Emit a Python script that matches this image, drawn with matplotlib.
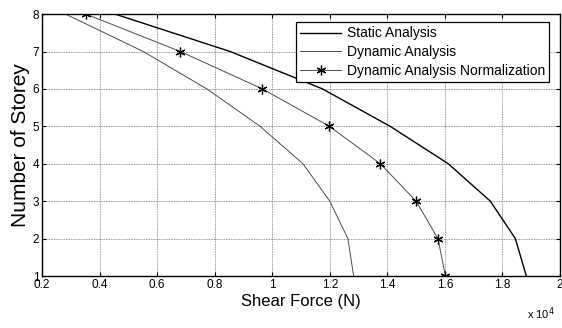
import numpy as np
import matplotlib.pyplot as plt

plt.rcParams['font.family'] = ['Liberation Sans', 'DejaVu Sans']

# storey numbers and shear force per storey (N)
storey = [1, 2, 3, 4, 5, 6, 7, 8]
static_force = [18830, 18450, 17580, 16120, 14100, 11750, 8540, 4540]
dynamic_force = [12830, 12630, 12000, 11070, 9580, 7730, 5520, 2820]
normalized_force = [16020, 15760, 15000, 13760, 11990, 9660, 6810, 3530]

x_ticks = [0.2, 0.4, 0.6, 0.8, 1.0, 1.2, 1.4, 1.6, 1.8, 2.0]
x_tick_labels = ['0.2', '0.4', '0.6', '0.8', '1', '1.2', '1.4', '1.6', '1.8', '2']

fig = plt.figure(figsize=(5.62, 3.28), dpi=100)
ax = fig.add_axes([0.0747, 0.1585, 0.9217, 0.7985])

scale = 1e4
ax.plot(np.array(static_force) / scale, storey, color='black', lw=1.0,
        label='Static Analysis')
ax.plot(np.array(dynamic_force) / scale, storey, color='0.3', lw=0.7,
        label='Dynamic Analysis')
ax.plot(np.array(normalized_force) / scale, storey, color='0.3', lw=0.7,
        marker=(6, 2, 0), markersize=7, markeredgecolor='black',
        markeredgewidth=0.9, label='Dynamic Analysis Normalization')

ax.set_xlim(0.2, 2.0)
ax.set_ylim(1, 8)
ax.set_xticks(x_ticks)
ax.set_xticklabels(x_tick_labels)
ax.set_yticks(storey)
ax.tick_params(direction='in', length=3, width=0.8, top=True, right=True,
               labelsize=8.5, pad=2)
ax.grid(True, color='0.45', linestyle=(0, (1, 1)), linewidth=0.6)
for s in ax.spines.values():
    s.set_linewidth(1.0)

ax.set_xlabel('Shear Force (N)', fontsize=12, labelpad=2)
ax.set_ylabel('Number of Storey', fontsize=15, labelpad=2)
fig.text(0.937, 0.028, r'x 10$^{4}$', fontsize=8)

leg = ax.legend(loc='upper right', bbox_to_anchor=(0.979, 0.969), borderaxespad=0,
                fontsize=10, handlelength=2.95, labelspacing=0.35,
                fancybox=False, framealpha=1, edgecolor='black',
                borderpad=0.3, handletextpad=0.4)
leg.get_frame().set_linewidth(0.9)

fig.savefig('out.png', dpi=100)
